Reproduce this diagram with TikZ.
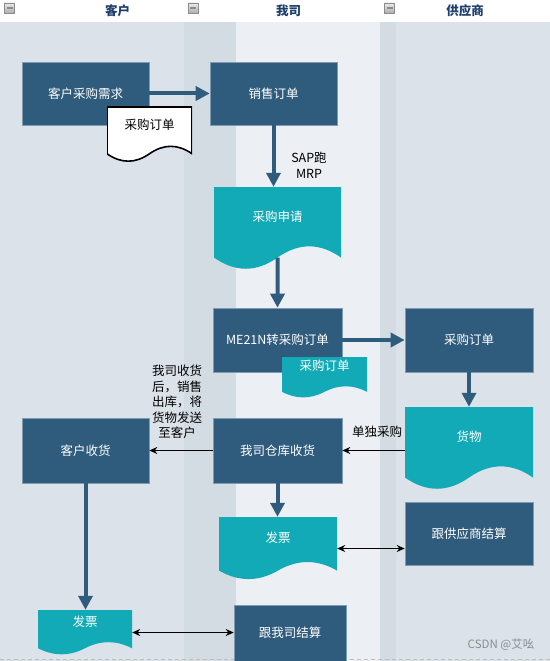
\documentclass[tikz,border=0pt]{standalone}
\usepackage{fontspec}
\setmainfont{Noto Sans CJK SC}
\usepackage{tikz}
\usetikzlibrary{calc,positioning,arrows.meta}
\definecolor{laneA}{HTML}{DCE2E9}
\definecolor{laneB}{HTML}{D3DBE3}
\definecolor{laneC}{HTML}{ECEFF3}
\definecolor{boxblue}{HTML}{2F5B7C}
\definecolor{boxedge}{HTML}{7F9BB2}
\definecolor{docteal}{HTML}{12AAB6}
\definecolor{titleblue}{HTML}{1F3F6E}
\newcommand{\docwave}[1]{\path[#1] let \p1=(path picture bounding box.north west), \p2=(path picture bounding box.south east) in
	(\x1,\y1) -- (\x2,\y1) -- (\x2,{(\y1)+0.85*((\y2)-(\y1))})
	.. controls ({(\x1)+5*((\x2)-(\x1))/6},{(\y1)+0.67*((\y2)-(\y1))}) and ({(\x1)+2*((\x2)-(\x1))/3},{(\y1)+0.67*((\y2)-(\y1))}) .. ({((\x1)+(\x2))/2},{(\y1)+0.85*((\y2)-(\y1))})
	.. controls ({(\x1)+((\x2)-(\x1))/3},{(\y1)+1.03*((\y2)-(\y1))}) and ({(\x1)+((\x2)-(\x1))/6},{(\y1)+1.03*((\y2)-(\y1))}) .. (\x1,{(\y1)+0.85*((\y2)-(\y1))}) -- cycle;}

\begin{document}
\begin{tikzpicture}[x=1bp,y=-1bp,
	every node/.style={font=\fontsize{12.5bp}{15.5bp}\selectfont},
	box/.style={rectangle, fill=boxblue, draw=boxedge, line width=0.6bp, text=white, inner sep=0pt, minimum width=127bp, minimum height=63bp},
	doc/.style={rectangle, inner sep=0pt, text=white, path picture={\docwave{#1}}},
	flow/.style={draw=boxblue, line width=4bp, -{Triangle[length=14bp,width=14bp]}},
	link/.style={draw=black, line width=1bp, -{Stealth[length=8bp,width=7bp]}},
	link2/.style={draw=black, line width=1bp, {Stealth[length=8bp,width=7bp]}-{Stealth[length=8bp,width=7bp]}},
	note/.style={text=black, align=center, inner sep=0pt},
	lanetitle/.style={text=titleblue, font=\fontsize{12.5bp}{15bp}\selectfont\bfseries},
	icon/.style={rectangle, draw=black!45, top color=black!8, bottom color=black!32, minimum width=10bp, minimum height=10bp, inner sep=0pt, path picture={\draw[line width=1.3bp] ($(path picture bounding box.west)+(2bp,0)$) -- ($(path picture bounding box.east)+(-2bp,0)$);}}]
	\useasboundingbox (0,0) rectangle (550,661);
	\fill[white] (0,0) rectangle (550,22);
	\fill[laneA] (0,22) rectangle (184,661);
	\fill[laneB] (184,22) rectangle (236,661);
	\fill[laneC] (236,22) rectangle (380,661);
	\fill[laneB] (380,22) rectangle (396,661);
	\fill[laneA] (396,22) rectangle (550,661);
	\draw[black!25, dash pattern=on 4bp off 3bp] (0,659) -- (550,659);
	\node[icon] (minKH) at (9.5,8) {};
	\node[icon] (minWS) at (193,8) {};
	\node[icon] (minGY) at (389.5,8) {};
	\node[lanetitle] (tKH) at (117.5,11) {客户};
	\node[lanetitle] (tWS) at (288.5,11) {我司};
	\node[lanetitle] (tGY) at (465,11) {供应商};
	\node[box] (xuqiu) at (85.5,93.5) {客户采购需求};
	\node[box] (xiaoshou) at (273.5,93.5) {销售订单};
	\node[doc={fill=white,draw=black,line width=1.6bp}, text=black, minimum width=85bp, minimum height=55bp, text depth=20bp] (khPO) at (149.5,134.5) {采购订单};
	\node[doc={fill=docteal}, minimum width=127bp, minimum height=83bp, text depth=24bp] (shenqing) at (277.5,228.5) {采购申请};
	\node[box, minimum width=129bp, minimum height=64bp] (me21n) at (277.5,340) {ME21N转采购订单};
	\node[doc={fill=docteal}, minimum width=85bp, minimum height=41bp, text depth=24bp] (wsPO) at (324.5,377.5) {采购订单};
	\node[box, minimum width=128bp, minimum height=64bp] (gysPO) at (469,340) {采购订单};
	\node[doc={fill=docteal}, minimum width=128bp, minimum height=83bp, text depth=24bp] (huowu) at (469,448.5) {货物};
	\node[box, minimum width=129bp, minimum height=65bp] (cangku) at (277.5,450.5) {我司仓库收货};
	\node[box, minimum height=65bp] (shouhuo) at (85.5,450.5) {客户收货};
	\node[doc={fill=docteal}, minimum width=118bp, minimum height=63bp, text depth=22bp] (wsFP) at (278,548.5) {发票};
	\node[box, minimum width=128bp] (gysJS) at (469,533.5) {跟供应商结算};
	\node[doc={fill=docteal}, minimum width=94bp, minimum height=45bp, text depth=22bp] (khFP) at (85,632.5) {发票};
	\node[box, minimum width=112bp, minimum height=56bp] (wsJS) at (290,633) {跟我司结算};
	\coordinate (sqEnd) at ($(shenqing.north)!0.85!(shenqing.south)$);
	\draw[flow] (xuqiu) -- (xiaoshou);
	\draw[flow] (xiaoshou.south) -- (xiaoshou.south |- shenqing.north);
	\draw[flow] (sqEnd) -- (me21n.north);
	\draw[flow] (me21n) -- (gysPO);
	\draw[flow] (gysPO) -- (huowu);
	\draw[link] (huowu.west |- cangku.east) -- (cangku.east);
	\draw[link] (cangku) -- (shouhuo);
	\draw[flow] (cangku.south) -- (cangku.south |- wsFP.north);
	\draw[link2] (wsFP.east) -- (wsFP.east -| gysJS.west);
	\draw[flow] (shouhuo.south) -- (shouhuo.south |- khFP.north);
	\draw[link2] (khFP.east) -- (khFP.east -| wsJS.west);
	\node[note] (sapmrp) at (309,165.5) {SAP跑\\MRP};
	\node[note] (danduo) at (377,432) {单独采购};
	\node[note] (fahuo) at (177,402) {我司收货\\后，销售\\出库，将\\货物发送\\至客户};
	\node[text=black!45, font=\fontsize{11.5bp}{13bp}\selectfont] (csdn) at (501,645) {CSDN @艾吆};
\end{tikzpicture}
\end{document}
